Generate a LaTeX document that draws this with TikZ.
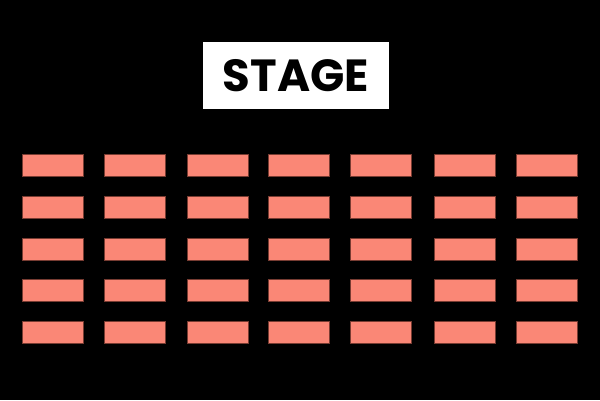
\documentclass[tikz,border=0pt]{standalone}
\usepackage{fontspec}
\newfontfamily\stagefont[Scale=1.0]{Poppins}
\usepackage{tikz}
\usetikzlibrary{positioning}
\definecolor{seatred}{RGB}{250,135,118}
\definecolor{seatedge}{RGB}{120,60,50}
\tikzset{
  seat/.style={draw=seatedge, line width=0.8pt, fill=seatred,
    minimum width=61pt, minimum height=22pt, inner sep=0pt, outer sep=0pt},
  stagebox/.style={fill=white, minimum width=186pt, minimum height=67pt,
    inner sep=0pt, font=\stagefont\bfseries\fontsize{45}{45}\selectfont}
}
\begin{document}
\begin{tikzpicture}[x=1pt,y=-1pt]
    \fill[black] (0,0) rectangle (600,400);
    \useasboundingbox (0,0) rectangle (600,400);
    \node[stagebox] (stage) at (296,75.5) {STAGE};
    \foreach \c/\x in {1/52.5,2/134.5,3/218,4/298.5,5/380.5,6/464.5,7/546.5} {
      \foreach \r/\y in {1/165.5,2/207.5,3/249,4/290.5,5/332} {
        \node[seat] (seat-\r-\c) at (\x,\y) {};
      }
    }
\end{tikzpicture}
\end{document}
